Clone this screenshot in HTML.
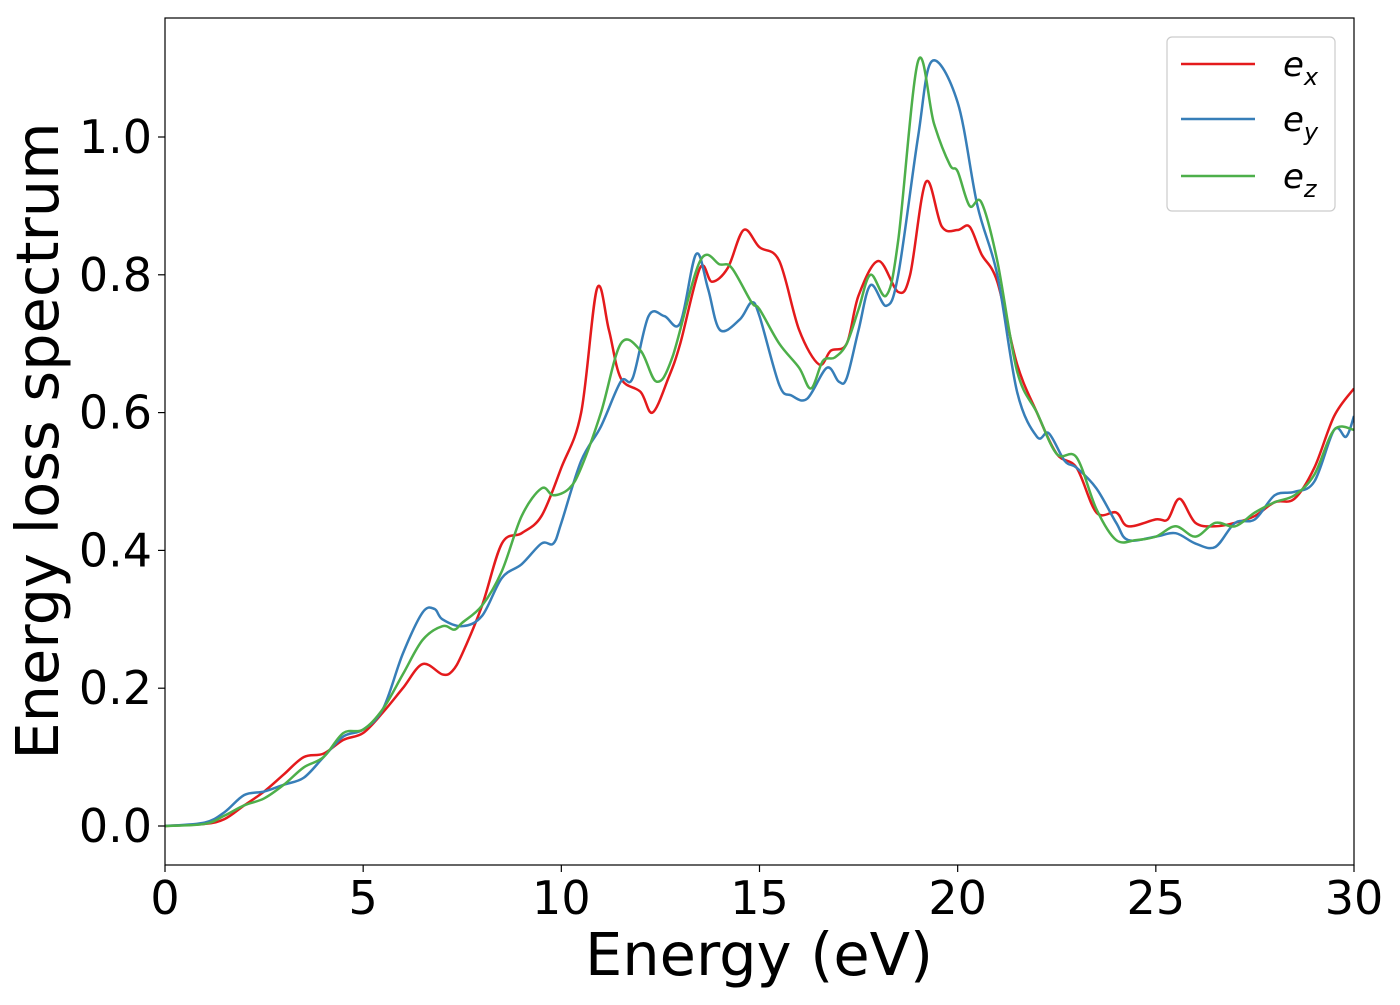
<!DOCTYPE html>
<html><head><meta charset="utf-8"><style>
body{margin:0;background:#fff;}
svg text{font-family:"DejaVu Sans","Liberation Sans",sans-serif;}
</style></head><body>
<svg id="chart" width="1400" height="1000" xmlns="http://www.w3.org/2000/svg">
<rect width="1400" height="1000" fill="#fff"/>
<g id="plot"></g>
</svg>
<script>
const exX=[0,1,1.5,2,2.5,3,3.5,4,4.5,5,5.5,6,6.5,7,7.25,7.5,8,8.5,9,9.5,10,10.5,10.9,11.2,11.5,12,12.3,12.7,13,13.5,13.8,14.2,14.6,15,15.5,16,16.5,16.8,17.2,17.5,18,18.5,18.8,19.2,19.6,20,20.3,20.6,21,21.5,22,22.5,23,23.5,24,24.3,25,25.3,25.6,26,26.5,27,27.5,28,28.5,29,29.5,30];
const exY=[0,0.003,0.01,0.03,0.05,0.075,0.1,0.105,0.125,0.135,0.165,0.2,0.235,0.22,0.225,0.25,0.32,0.41,0.425,0.45,0.52,0.6,0.78,0.72,0.65,0.63,0.6,0.65,0.7,0.81,0.79,0.81,0.865,0.84,0.82,0.72,0.67,0.69,0.7,0.77,0.82,0.775,0.8,0.935,0.87,0.865,0.87,0.83,0.79,0.67,0.6,0.54,0.52,0.455,0.455,0.435,0.445,0.445,0.475,0.44,0.435,0.44,0.45,0.47,0.475,0.52,0.595,0.635];
const eyX=[0,1,1.5,2,2.5,3,3.5,4,4.5,5,5.5,6,6.5,6.8,7,7.5,8,8.5,9,9.5,9.8,10,10.5,11,11.5,11.8,12.2,12.6,13,13.4,13.7,14,14.5,14.8,15,15.5,15.8,16.2,16.7,17,17.2,17.5,17.8,18.2,18.5,19,19.35,20,20.5,21,21.5,22,22.3,22.7,23,23.5,24,24.3,25,25.5,26,26.5,27,27.5,28,28.5,29,29.5,29.8,30];
const eyY=[0,0.005,0.02,0.045,0.05,0.06,0.07,0.1,0.13,0.14,0.17,0.25,0.31,0.315,0.3,0.29,0.305,0.36,0.38,0.41,0.41,0.44,0.53,0.58,0.645,0.65,0.74,0.74,0.73,0.83,0.78,0.72,0.735,0.76,0.74,0.64,0.625,0.62,0.665,0.645,0.65,0.72,0.785,0.755,0.8,1.0,1.11,1.05,0.9,0.8,0.63,0.565,0.57,0.53,0.52,0.49,0.44,0.415,0.42,0.425,0.41,0.405,0.44,0.445,0.48,0.485,0.5,0.575,0.565,0.595];
const ezX=[0,1,1.5,2,2.5,3,3.5,4,4.5,5,5.5,6,6.5,7,7.3,7.5,8,8.5,9,9.5,9.8,10.2,10.5,11,11.5,12,12.4,12.8,13.5,14,14.3,14.8,15,15.5,16,16.3,16.6,16.9,17.2,17.5,17.8,18.2,18.5,19,19.4,19.8,20,20.3,20.6,21,21.5,22,22.5,23,23.5,24,24.5,25,25.5,26,26.5,27,27.5,28,28.5,29,29.5,30];
const ezY=[0,0.003,0.015,0.03,0.04,0.06,0.085,0.1,0.135,0.14,0.17,0.22,0.27,0.29,0.285,0.295,0.32,0.37,0.45,0.49,0.48,0.49,0.52,0.6,0.7,0.69,0.645,0.68,0.82,0.815,0.81,0.76,0.75,0.7,0.665,0.635,0.675,0.68,0.7,0.75,0.8,0.77,0.85,1.11,1.02,0.96,0.95,0.9,0.905,0.82,0.66,0.6,0.54,0.535,0.46,0.415,0.415,0.42,0.435,0.42,0.44,0.435,0.455,0.47,0.48,0.51,0.575,0.575];
const xTicks=[0,5,10,15,20,25,30];
const yTicks=[0.0,0.2,0.4,0.6,0.8,1.0];
const L=165,R=1354,T=18,B=865;
const sx=v=>L+(v/30)*(R-L);
const sy=v=>826-v*689;
const NS="http://www.w3.org/2000/svg";
const g=document.getElementById('plot');
function el(t,a,p){const e=document.createElementNS(NS,t);for(const k in a)e.setAttribute(k,a[k]);(p||g).appendChild(e);return e;}
function path(xs,ys){
  const P=xs.map((x,i)=>[sx(x),sy(ys[i])]);
  let d="M"+P[0][0]+","+P[0][1];
  for(let i=0;i<P.length-1;i++){
    const p0=P[Math.max(0,i-1)],p1=P[i],p2=P[i+1],p3=P[Math.min(P.length-1,i+2)];
    const c1=[p1[0]+(p2[0]-p0[0])/6,p1[1]+(p2[1]-p0[1])/6];
    const c2=[p2[0]-(p3[0]-p1[0])/6,p2[1]-(p3[1]-p1[1])/6];
    d+=`C${c1[0]},${c1[1]} ${c2[0]},${c2[1]} ${p2[0]},${p2[1]}`;
  }
  return d;
}
const clip=el('clipPath',{id:'cp'});
el('rect',{x:L,y:T,width:R-L,height:B-T},clip);
const series=[[exX,exY,'#e41a1c','series-ex'],[eyX,eyY,'#377eb8','series-ey'],[ezX,ezY,'#4daf4a','series-ez']];
series.forEach(s=>{
  const p=el('path',{d:path(s[0],s[1]),fill:'none',stroke:s[2],'stroke-width':2.5,'clip-path':'url(#cp)'});
  
  
});
const fr=el('rect',{x:L,y:T,width:R-L,height:B-T,fill:'none',stroke:'#000','stroke-width':1.2});


xTicks.forEach(v=>{
  el('line',{x1:sx(v),x2:sx(v),y1:B,y2:B+7,stroke:'#000','stroke-width':1.2});
  const t=el('text',{x:sx(v),y:914,'font-size':46,'text-anchor':'middle'});
  t.textContent=v;
  
  
});
yTicks.forEach(v=>{
  el('line',{x1:L-7,x2:L,y1:sy(v),y2:sy(v),stroke:'#000','stroke-width':1.2});
  const t=el('text',{x:152,y:sy(v)+16,'font-size':46,'text-anchor':'end'});
  t.textContent=v.toFixed(1);
  
  
});
const xt=el('text',{x:759,y:975,'font-size':59,'text-anchor':'middle'});
xt.textContent='Energy (eV)';


const yt=el('text',{x:0,y:0,'font-size':59,'text-anchor':'middle',transform:'translate(58,441) rotate(-90)'});
yt.textContent='Energy loss spectrum';


const lg=el('g',{});


el('rect',{x:1167,y:37,width:168,height:174,rx:5,fill:'#fff',stroke:'#ccc','stroke-width':1.2},lg);
const labs=[['x','#e41a1c',64],['y','#377eb8',119],['z','#4daf4a',176]];
labs.forEach(l=>{
  const e=el('line',{x1:1181,x2:1255,y1:l[2],y2:l[2],stroke:l[1],'stroke-width':2.5},lg);
  
  
  const t=el('text',{x:1283,y:l[2]+12,'font-size':34,'font-style':'italic'},lg);
  
  
  t.appendChild(document.createTextNode('e'));
  const ts=el('tspan',{'font-size':24,dy:9},t);
  ts.textContent=l[0];
});
</script>
</body></html>
